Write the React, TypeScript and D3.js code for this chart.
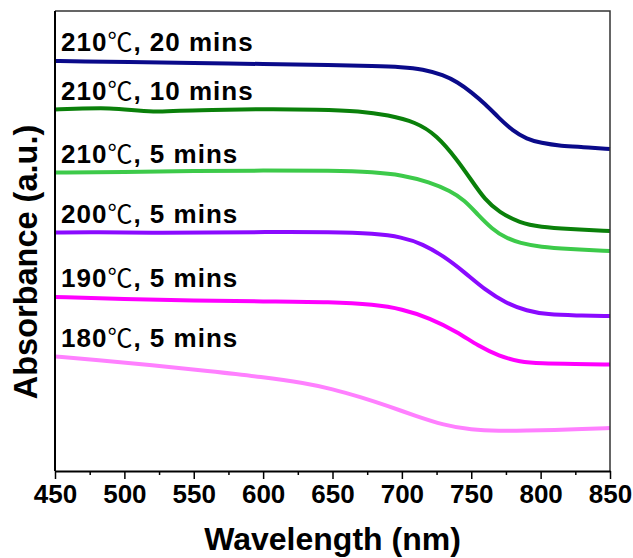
import React, { useEffect, useRef } from 'react';
import * as d3 from 'd3';

// wavelength grid (nm) and absorbance traces (a.u., offset for clarity)
const wl20 = [450, 470, 500, 550, 600, 650, 680, 700, 715, 730, 740, 750, 760, 770, 780, 790, 800, 815, 830, 850];
const abs20 = [41.0, 40.95, 40.9, 40.8, 40.7, 40.6, 40.5, 40.4, 40.2, 39.6, 38.9, 37.9, 36.7, 35.3, 34.0, 33.2, 32.8, 32.5, 32.4, 32.2];

const wl10 = [450, 470, 490, 505, 520, 540, 560, 600, 640, 670, 690, 710, 725, 740, 750, 760, 770, 785, 800, 820, 850];
const abs10 = [36.15, 36.25, 36.3, 36.1, 35.9, 36.05, 36.1, 36.2, 36.15, 36.0, 35.6, 34.9, 33.6, 31.1, 29.1, 27.1, 25.9, 24.8, 24.4, 24.2, 24.0];

const wl210 = [450, 500, 550, 600, 650, 680, 700, 720, 735, 745, 755, 765, 775, 785, 800, 820, 850];
const abs210 = [29.85, 29.9, 30.0, 30.05, 30.05, 29.9, 29.6, 28.9, 28.0, 27.1, 25.6, 24.2, 23.3, 22.8, 22.4, 22.2, 22.0];

const wl200 = [450, 480, 520, 560, 600, 650, 680, 700, 715, 730, 745, 760, 775, 790, 805, 825, 850];
const abs200 = [23.85, 23.9, 23.8, 23.85, 23.9, 23.9, 23.75, 23.4, 22.7, 21.5, 19.9, 18.1, 16.8, 16.0, 15.65, 15.55, 15.5];

const wl190 = [450, 500, 550, 600, 650, 680, 700, 720, 740, 755, 770, 785, 800, 825, 850];
const abs190 = [17.4, 17.2, 17.05, 16.95, 16.9, 16.65, 16.2, 15.3, 13.9, 12.5, 11.5, 10.9, 10.75, 10.7, 10.65];

const wl180 = [450, 480, 520, 560, 600, 630, 650, 670, 690, 710, 730, 750, 770, 790, 810, 830, 850];
const abs180 = [11.45, 11.1, 10.6, 10.0, 9.4, 8.8, 8.2, 7.4, 6.5, 5.5, 4.6, 4.1, 4.0, 4.05, 4.1, 4.2, 4.3];

const tempLabels = ['210', '210', '210', '200', '190', '180'];
const timeLabels = [', 20 mins', ', 10 mins', ', 5 mins', ', 5 mins', ', 5 mins', ', 5 mins'];
const colors = ['#0a0a8a', '#0a800a', '#3dca4a', '#8a0aff', '#ff00ff', '#ff80ff'];

const xTicks = [450, 500, 550, 600, 650, 700, 750, 800, 850];

const FONT = '"Liberation Sans", Arial, sans-serif';

const App = () => {
  const ref = useRef<SVGSVGElement>(null);

  useEffect(() => {
    const width = 633;
    const height = 558;
    const margin = { top: 12, right: 23, bottom: 87, left: 55 };

    const x = d3.scaleLinear().domain([450, 850]).range([margin.left, width - margin.right]);
    const y = d3.scaleLinear().domain([0, 46]).range([height - margin.bottom, height - margin.bottom - 460]);

    const series = [
      [wl20, abs20],
      [wl10, abs10],
      [wl210, abs210],
      [wl200, abs200],
      [wl190, abs190],
      [wl180, abs180],
    ].map(([w, a]) => w.map((d, i) => ({ w: d, a: a[i] })));

    const svg = d3.select(ref.current);
    svg.selectAll('*').remove();

    const line = d3.line<{ w: number; a: number }>()
      .x(d => x(d.w))
      .y(d => y(d.a))
      .curve(d3.curveBasis);

    // traces
    series.forEach((s, i) => {
      svg.append('path')
        .datum(s)
        .attr('d', line)
        .attr('fill', 'none')
        .attr('stroke', colors[i])
        .attr('stroke-width', 4)
        .attr('stroke-linejoin', 'round');
    });

    // labels
    series.forEach((s, i) => {
      const t = svg.append('text')
        .attr('x', x(450) + 6)
        .attr('y', y(s[0].a) - 10)
        .attr('font-family', FONT)
        .attr('font-size', 26)
        .attr('font-weight', 'bold')
        .attr('letter-spacing', 1)
        .attr('fill', '#000');
      t.append('tspan').text(tempLabels[i]);
      t.append('tspan')
        .attr('font-family', '"Noto Sans CJK SC", sans-serif')
        .attr('font-weight', 'normal')
        .attr('font-size', 25)
        .text('℃');
      t.append('tspan').text(timeLabels[i]);
    });

    // frame (top & right)
    svg.append('path')
      .attr('d', `M${x(450)},${y(46)}H${x(850)}V${y(0)}`)
      .attr('fill', 'none')
      .attr('stroke', '#333')
      .attr('stroke-width', 1.5);

    // left axis line
    svg.append('line')
      .attr('x1', x(450)).attr('x2', x(450))
      .attr('y1', y(46)).attr('y2', y(0))
      .attr('stroke', '#000')
      .attr('stroke-width', 2);

    // minor ticks
    const gMinor = svg.append('g')
      .attr('transform', `translate(0, ${y(0)})`)
      .call(d3.axisBottom(x).tickValues(d3.range(475, 850, 50)).tickSize(4).tickFormat(() => ''));
    gMinor.select('.domain').remove();
    gMinor.selectAll('line').attr('stroke-width', 1.5);

    // bottom axis
    const gx = svg.append('g')
      .attr('transform', `translate(0, ${y(0)})`)
      .call(d3.axisBottom(x).tickValues(xTicks).tickSize(8).tickSizeOuter(0).tickPadding(6).tickFormat(d3.format('d')));
    gx.select('.domain').attr('stroke-width', 2);
    gx.selectAll('line').attr('stroke-width', 1.5);
    gx.selectAll('text')
      .attr('font-family', FONT)
      .attr('font-size', 26)
      .attr('font-weight', 'bold')
      .attr('fill', '#000');

    // axis titles
    svg.append('text')
      .attr('x', (x(450) + x(850)) / 2)
      .attr('y', 550)
      .attr('text-anchor', 'middle')
      .attr('font-family', FONT)
      .attr('font-size', 32)
      .attr('font-weight', 'bold')
      .text('Wavelength (nm)');

    svg.append('text')
      .attr('transform', `translate(37, 262) rotate(-90)`)
      .attr('text-anchor', 'middle')
      .attr('font-family', FONT)
      .attr('font-size', 32.5)
      .attr('font-weight', 'bold')
      .text('Absorbance (a.u.)');
  }, []);

  return (
    <svg ref={ref} width={633} height={558} style={{ position: 'absolute', left: 0, top: 0, background: '#fff' }} />
  );
};

export default App;
